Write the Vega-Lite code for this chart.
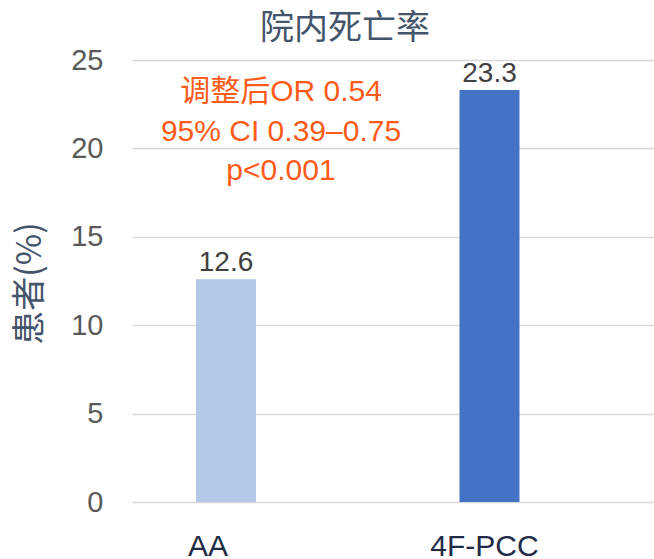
{
  "$schema": "https://vega.github.io/schema/vega-lite/v6.json",
  "autosize": {"type": "none"},
  "width": 522,
  "height": 442,
  "padding": {"left": 132, "top": 60, "right": 0, "bottom": 57},
  "background": "white",
  "title": {
    "text": "院内死亡率",
    "anchor": "middle",
    "frame": "group",
    "dx": -48,
    "offset": 6,
    "dy": 40,
    "baseline": "bottom",
    "font": "Noto Sans CJK SC",
    "fontSize": 34,
    "fontWeight": "normal",
    "color": "#44546A"
  },
  "datasets": {
    "bars": [
      {"group": "AA", "rate": 12.6},
      {"group": "4F-PCC", "rate": 23.3}
    ],
    "note": [
      {"group": "AA", "label": "调整后OR 0.54\n95% CI 0.39–0.75\np<0.001"}
    ]
  },
  "config": {
    "view": {"stroke": null},
    "font": "Liberation Sans"
  },
  "encoding": {
    "x": {
      "field": "group",
      "type": "nominal",
      "sort": ["AA", "4F-PCC"],
      "scale": {"paddingInner": 0.7723, "paddingOuter": 0.3767, "align": 0.3224},
      "axis": {
        "title": null,
        "labelAngle": 0,
        "ticks": false,
        "domain": false,
        "labelFont": "Liberation Sans",
        "labelFontSize": 30,
        "labelColor": "#222B45",
        "labelBaseline": "alphabetic",
        "labelPadding": 53,
        "labelOffset": {"condition": {"test": "datum.value === 'AA'", "value": -18}, "value": -5}
      }
    }
  },
  "layer": [
    {
      "data": {"name": "bars"},
      "mark": {"type": "bar"},
      "encoding": {
        "y": {
          "field": "rate",
          "type": "quantitative",
          "scale": {"domain": [0, 25], "nice": false},
          "axis": {
            "values": [0, 5, 10, 15, 20, 25],
            "title": "患者(%)",
            "titleFont": "Noto Sans CJK SC",
            "titleFontSize": 34,
            "titleFontWeight": "normal",
            "titleColor": "#44546A",
            "titleAngle": -90,
            "titleX": -102,
            "titleY": 223,
            "titleBaseline": "middle",
            "titleAlign": "center",
            "ticks": false,
            "domain": false,
            "grid": true,
            "gridColor": "#D9D9D9",
            "gridWidth": 1.5,
            "labelFont": "Liberation Sans",
            "labelFontSize": 29,
            "labelColor": "#595959",
            "labelPadding": 29
          }
        },
        "color": {
          "field": "group",
          "type": "nominal",
          "scale": {"domain": ["AA", "4F-PCC"], "range": ["#B4C7E7", "#4472C4"]},
          "legend": null
        }
      }
    },
    {
      "data": {"name": "bars"},
      "mark": {"type": "text", "baseline": "alphabetic", "dy": -8, "fontSize": 28, "color": "#404040", "font": "Liberation Sans"},
      "encoding": {
        "y": {"field": "rate", "type": "quantitative"},
        "text": {"field": "rate", "type": "quantitative", "format": ".1f"}
      }
    },
    {
      "data": {"name": "note"},
      "mark": {
        "type": "text",
        "lineBreak": "\n",
        "lineHeight": 39.5,
        "baseline": "alphabetic",
        "align": "center",
        "dx": 55,
        "dy": 41,
        "fontSize": 30,
        "color": "#FF5B1A",
        "font": "Liberation Sans, Noto Sans CJK SC"
      },
      "encoding": {
        "y": {"datum": 25},
        "text": {"field": "label", "type": "nominal"}
      }
    }
  ]
}
